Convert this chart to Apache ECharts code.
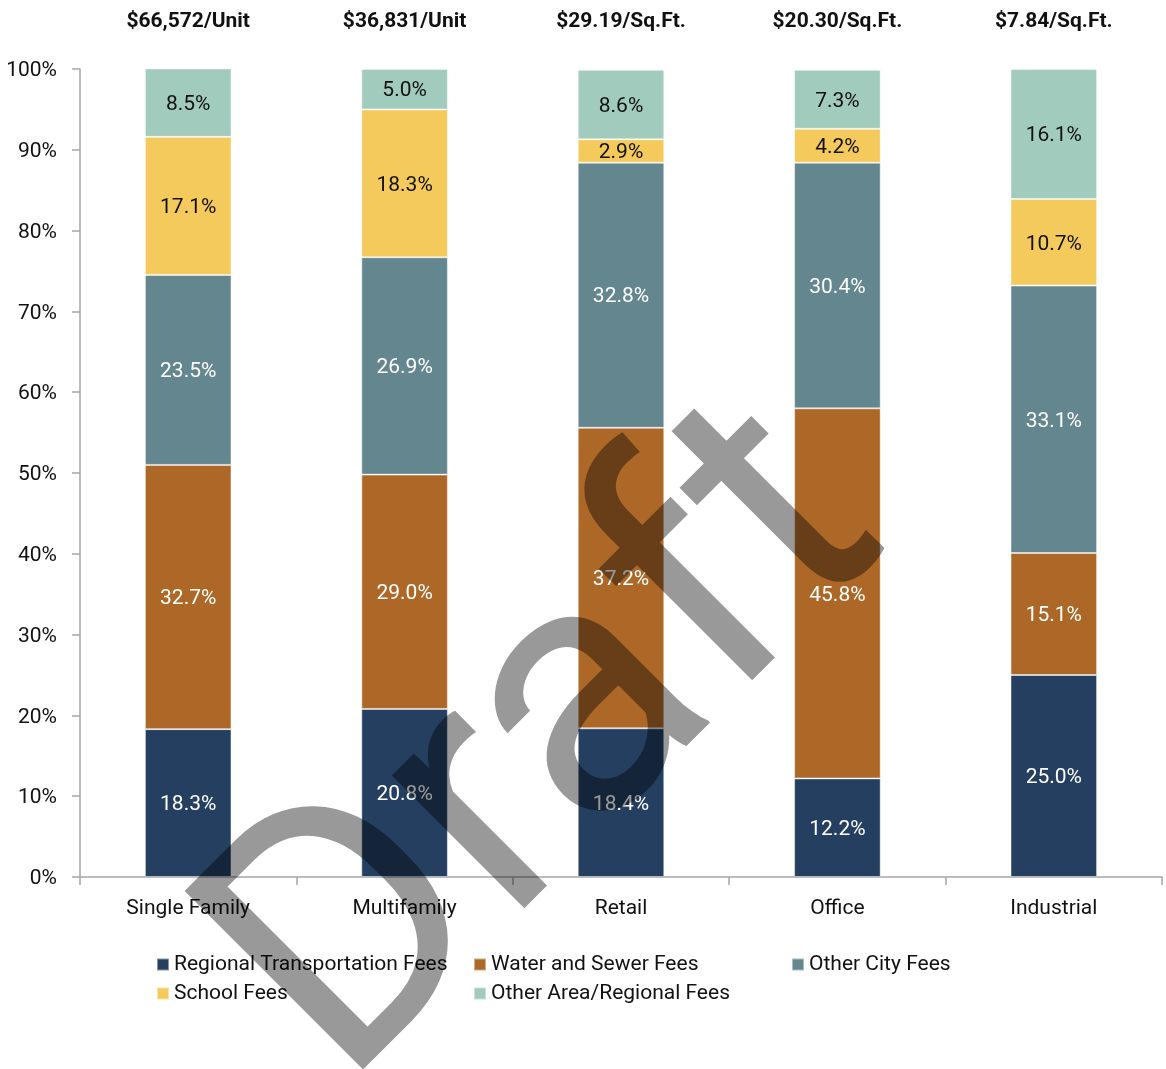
<!DOCTYPE html>
<html>
<head>
<meta charset="utf-8">
<title>Development Fee Composition by Land Use</title>
<script src="https://cdn.jsdelivr.net/npm/echarts@6/dist/echarts.min.js"></script>
<style>
  html, body { margin: 0; padding: 0; background: #fff; }
  #chart { width: 1166px; height: 1069px; }
</style>
</head>
<body>
<div id="chart"></div>
<script>
// Land-use categories and total fee per unit / square foot
const categories = ['Single Family', 'Multifamily', 'Retail', 'Office', 'Industrial'];
const totalFees = ['$66,572/Unit', '$36,831/Unit', '$29.19/Sq.Ft.', '$20.30/Sq.Ft.', '$7.84/Sq.Ft.'];

// Share of total fee (%) by fee type
const regionalTransportation = [18.3, 20.8, 18.4, 12.2, 25.0];
const waterSewer            = [32.7, 29.0, 37.2, 45.8, 15.1];
const otherCity             = [23.5, 26.9, 32.8, 30.4, 33.1];
const school                = [17.1, 18.3, 2.9, 4.2, 10.7];
const otherAreaRegional     = [8.5, 5.0, 8.6, 7.3, 16.1];

const FONT = 'Roboto, "Noto Sans", sans-serif';
const TEXT = '#111';

const seriesDefs = [
  { name: 'Regional Transportation Fees', data: regionalTransportation, color: '#243F60', label: '#fff' },
  { name: 'Water and Sewer Fees',         data: waterSewer,             color: '#AD6828', label: '#fff' },
  { name: 'Other City Fees',              data: otherCity,              color: '#64868F', label: '#fff' },
  { name: 'School Fees',                  data: school,                 color: '#F4CA5C', label: TEXT },
  { name: 'Other Area/Regional Fees',     data: otherAreaRegional,      color: '#A1CBBD', label: TEXT }
];

const chart = echarts.init(document.getElementById('chart'), null, { renderer: 'canvas' });

const legendCommon = {
  orient: 'vertical',
  top: 954,
  padding: 0,
  itemWidth: 12,
  itemHeight: 12,
  itemGap: 8,
  icon: 'rect',
  selectedMode: false,
  textStyle: { fontFamily: FONT, fontSize: 21, color: TEXT }
};

const option = {
  animation: false,
  backgroundColor: '#fff',
  textStyle: { fontFamily: FONT },
  grid: { left: 80, right: 4, top: 69, bottom: 192, containLabel: false },
  legend: [
    Object.assign({ left: 156, data: ['Regional Transportation Fees', 'School Fees'] }, legendCommon),
    Object.assign({ left: 473, data: ['Water and Sewer Fees', 'Other Area/Regional Fees'] }, legendCommon),
    Object.assign({ left: 791, data: ['Other City Fees'] }, legendCommon)
  ],
  xAxis: [
    {
      type: 'category',
      data: categories,
      axisLine: { show: true, lineStyle: { color: '#A6A6A6', width: 1.5 } },
      axisTick: { show: true, length: 8, lineStyle: { color: '#A6A6A6', width: 1.5 } },
      axisLabel: { margin: 21, fontFamily: FONT, fontSize: 21, color: TEXT }
    },
    {
      type: 'category',
      position: 'top',
      data: totalFees,
      axisLine: { show: false },
      axisTick: { show: false },
      axisLabel: { margin: 37, fontFamily: FONT, fontSize: 21, fontWeight: 'bold', color: TEXT }
    }
  ],
  yAxis: {
    type: 'value',
    min: 0,
    max: 100,
    interval: 10,
    axisLine: { show: true, lineStyle: { color: '#A6A6A6', width: 1.5 } },
    axisTick: { show: true, length: 8, lineStyle: { color: '#A6A6A6', width: 1.5 } },
    splitLine: { show: false },
    axisLabel: {
      margin: 23,
      formatter: v => '{p|' + v + '%}',
      rich: { p: { fontFamily: FONT, fontSize: 21, color: TEXT, padding: [4, 0, 0, 0] } }
    }
  },
  series: seriesDefs.map(s => ({
    name: s.name,
    type: 'bar',
    stack: 'share',
    xAxisIndex: 0,
    barWidth: '40%',
    data: s.data,
    itemStyle: { color: s.color, borderColor: 'rgba(255,255,255,0.45)', borderWidth: 1 },
    label: {
      show: true,
      position: 'inside',
      offset: [0, 2],
      formatter: p => p.value.toFixed(1) + '%',
      fontFamily: FONT,
      fontSize: 21,
      color: s.label
    }
  })),
  graphic: [
    {
      type: 'text',
      x: 555,
      y: 752,
      rotation: Math.PI / 4,
      z: 100,
      silent: true,
      style: {
        text: 'Draft',
        fontFamily: FONT,
        fontSize: 355,
        fill: 'rgba(0,0,0,0.4)',
        textAlign: 'center',
        textVerticalAlign: 'middle'
      }
    }
  ]
};

chart.setOption(option);
</script>
</body>
</html>
